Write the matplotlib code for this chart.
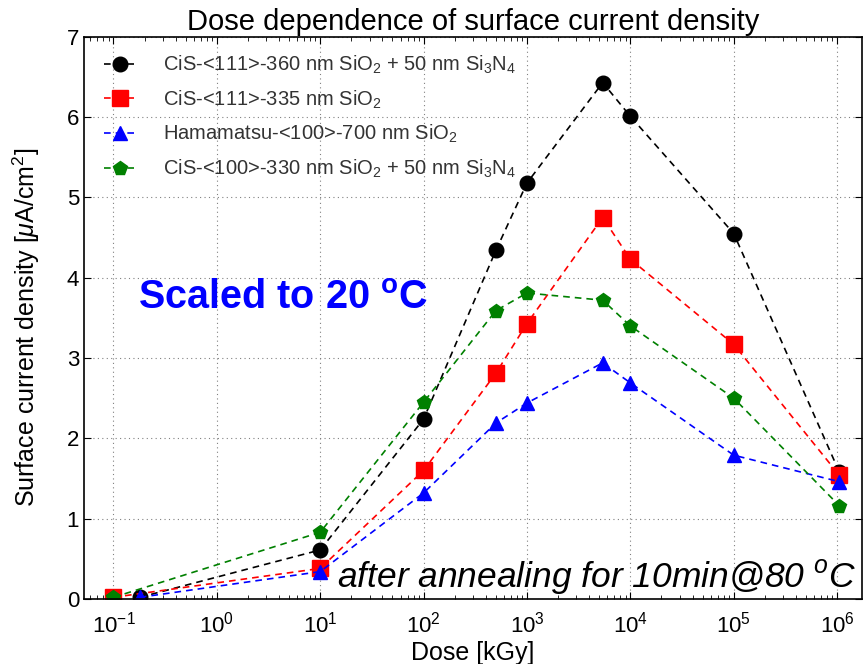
import numpy as np
import matplotlib
matplotlib.use("Agg")
import matplotlib.pyplot as plt

plt.rcParams['font.family'] = ['Liberation Sans', 'DejaVu Sans']
plt.rcParams['mathtext.fontset'] = 'custom'
plt.rcParams['mathtext.rm'] = 'Liberation Sans'
plt.rcParams['mathtext.it'] = 'Liberation Sans:italic'
plt.rcParams['mathtext.bf'] = 'Liberation Sans:bold'

# dose [kGy] and surface current density [uA/cm^2]
dose_black = [0.18, 10, 100, 500, 1000, 5400, 10000, 1.0e5, 1.05e6]
curr_black = [0.02, 0.61, 2.24, 4.34, 5.18, 6.43, 6.01, 4.55, 1.58]

dose_red = [0.1, 10, 100, 500, 1000, 5400, 10000, 1.0e5, 1.05e6]
curr_red = [0.02, 0.38, 1.60, 2.81, 3.43, 4.75, 4.23, 3.17, 1.54]

dose_blue = [0.18, 10, 100, 500, 1000, 5400, 10000, 1.0e5, 1.05e6]
curr_blue = [0.02, 0.34, 1.32, 2.19, 2.44, 2.94, 2.69, 1.79, 1.46]

dose_green = [0.1, 10, 100, 500, 1000, 5400, 10000, 1.0e5, 1.05e6]
curr_green = [0.02, 0.83, 2.45, 3.59, 3.81, 3.72, 3.40, 2.50, 1.16]

labels = [
    r'CiS-<111>-360 nm SiO$_2$ + 50 nm Si$_3$N$_4$',
    r'CiS-<111>-335 nm SiO$_2$',
    r'Hamamatsu-<100>-700 nm SiO$_2$',
    r'CiS-<100>-330 nm SiO$_2$ + 50 nm Si$_3$N$_4$',
]

fig = plt.figure(figsize=(8.63, 6.64), dpi=100)
ax = fig.add_axes([0.0973, 0.098, 0.9015, 0.8465])

ax.plot(dose_black, curr_black, '--', color='black', marker='o', ms=10.5, lw=1.2,
        dashes=(4, 3), label=labels[0])
ax.plot(dose_red, curr_red, '--', color='red', marker='s', ms=11, lw=1.2,
        dashes=(4, 3), label=labels[1])
ax.plot(dose_blue, curr_blue, '--', color='blue', marker='^', ms=10.5, lw=1.2,
        dashes=(4, 3), label=labels[2])
ax.plot(dose_green, curr_green, '--', color='green', marker='p', ms=10, lw=1.2,
        dashes=(4, 3), label=labels[3])

ax.set_xscale('log')
ax.set_xlim(10 ** -1.285, 10 ** 6.24)
ax.set_ylim(0, 7)
ax.set_yticks(range(8))
ax.set_xticks([10.0 ** k for k in range(-1, 7)])

ax.grid(True, which='major', linestyle=(0, (1, 3)), color='gray', lw=0.8)
ax.tick_params(which='both', direction='in', top=True, right=True)
ax.tick_params(which='major', length=5, labelsize=16)
ax.tick_params(axis='x', which='major', pad=9)
ax.tick_params(which='minor', length=3)
for s in ax.spines.values():
    s.set_linewidth(1.2)

ax.set_xlabel('Dose [kGy]', fontsize=18, va='top')
ax.xaxis.set_label_coords(0.5, -0.074)
ax.set_ylabel(r'Surface current density [$\mu$A/cm$^2$]', fontsize=18)
ax.yaxis.set_label_coords(-0.054, 0.484)
ax.set_title('Dose dependence of surface current density', fontsize=21, pad=5)

leg = ax.legend(loc='upper left', frameon=False, fontsize=14.5, handlelength=1.6,
                handletextpad=1.3, labelspacing=0.62, borderaxespad=0.6,
                labelcolor='#333333', bbox_to_anchor=(0.0, 1.006))

ax.text(0.069, 0.536, r'Scaled to 20 $^{\mathbf{o}}$C', transform=ax.transAxes,
        fontsize=28.5, fontweight='bold', color='blue', va='center')
ax.text(0.993, 0.02, r'after annealing for 10min@80 $^{o}$C', transform=ax.transAxes,
        fontsize=25.5, style='italic', ha='right', va='baseline')

fig.savefig('out.png', dpi=100)
